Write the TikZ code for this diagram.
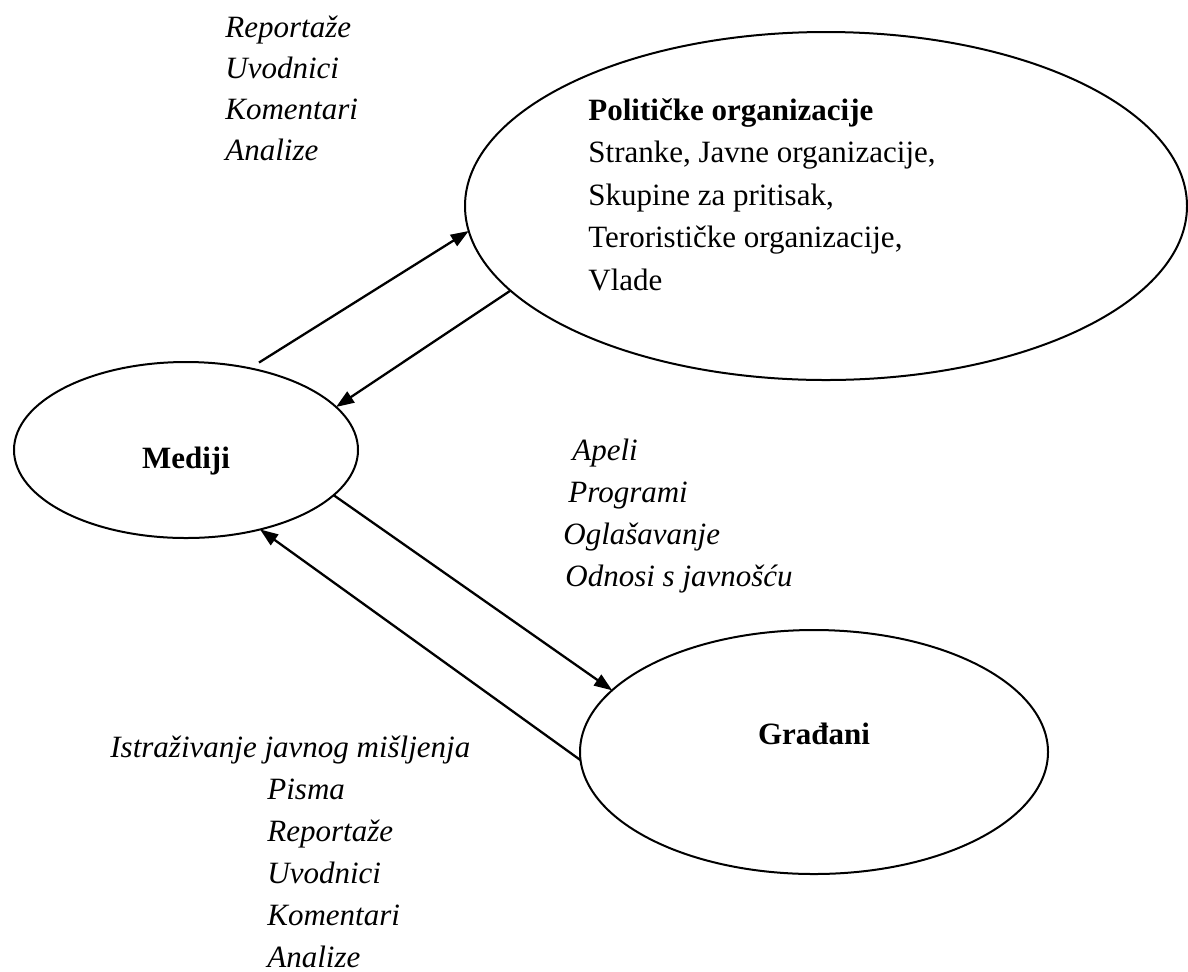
\documentclass[tikz,border=0pt]{standalone}
\usepackage{fontspec}
\setmainfont{Liberation Serif}
\usetikzlibrary{arrows.meta, shapes.geometric}

\begin{document}
\fontsize{15.5pt}{21pt}\selectfont
\begin{tikzpicture}[x=0.5pt, y=-0.5pt,
        oval/.style={draw, ellipse, line width=1pt, inner sep=0pt, outer sep=0pt},
        title/.style={font=\bfseries, inner sep=0pt},
        plain/.style={inner sep=0pt, anchor=base west},
        item/.style={font=\itshape, inner sep=0pt, anchor=base west},
        arr/.style={-{Triangle[length=9pt, width=6.5pt]}, line width=1.15pt}]
        \path[use as bounding box, fill=white] (0,0) rectangle (1188,971);

        % Nodes
        \node[oval, minimum width=172pt, minimum height=88pt] (mediji) at (186,450) {};
        \node[oval, minimum width=361pt, minimum height=174pt] (org) at (826,206) {};
        \node[oval, minimum width=234pt, minimum height=122pt] (gradjani) at (814,752) {};

        \node[title, anchor=base] (medtxt) at (186,468) {Mediji};
        \node[title, anchor=base] (gratxt) at (814,744) {Građani};
        \node[title, anchor=base west] (orgtxt) at (588,120) {Političke organizacije};
        \foreach \t [count=\i] in {{Stranke, Javne organizacije,}, {Skupine za pritisak,}, {Terorističke organizacije,}, Vlade}
            \node[plain] (org\i) at (588, {120+42.5*\i}) {\t};

        % Labels
        \foreach \t [count=\i] in {Reportaže, Uvodnici, Komentari, Analize}
            \node[item] (top\i) at (225, {37+41*(\i-1)}) {\t};
        \foreach \x/\t [count=\i] in {572/Apeli, 568/Programi, 563/Oglašavanje, 565/Odnosi s javnošću}
            \node[item] (kan\i) at (\x, {460+42.3*(\i-1)}) {\t};
        \node[item] (anketa) at (110,757) {Istraživanje javnog mišljenja};
        \foreach \t [count=\i] in {Pisma, Reportaže, Uvodnici, Komentari, Analize}
            \node[item] (fb\i) at (267, {757+42*\i}) {\t};

        % Edges
        \draw[arr, shorten <=5.4pt] (mediji.52.6) -- (org.184.3);
        \draw[arr] (org.195.3) -- (mediji.16.6);
        \draw[arr] (mediji.343.2) -- (gradjani.163.6);
        \draw[arr] (gradjani.182) -- (mediji.313.9);
\end{tikzpicture}
\end{document}
